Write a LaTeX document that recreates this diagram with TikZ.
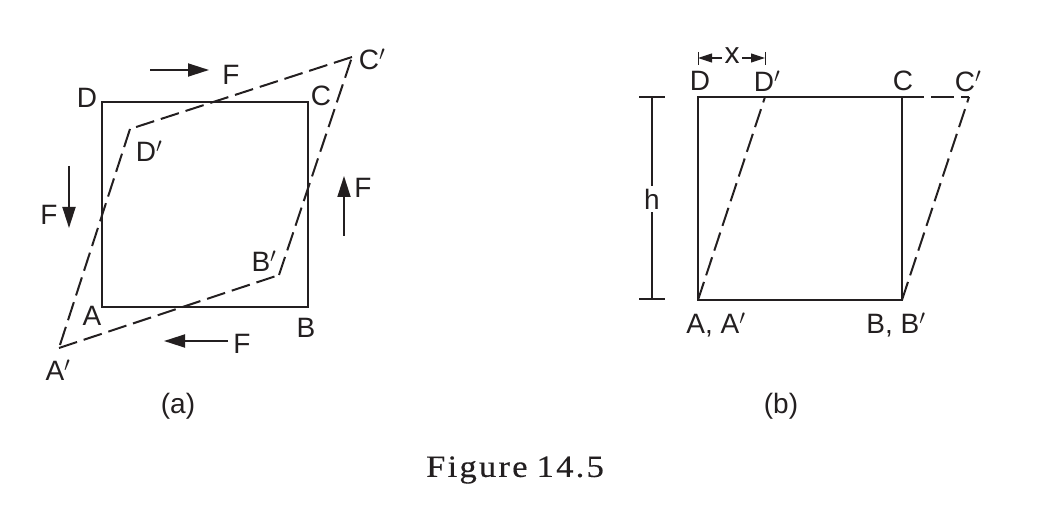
\documentclass[tikz,border=0pt]{standalone}
\usepackage{fontspec}
\setmainfont{Liberation Sans}
\newfontfamily\capfont[LetterSpace=7,FakeStretch=1.12,FakeBold=0.4]{Liberation Serif}
\usetikzlibrary{arrows.meta}
\definecolor{ink}{HTML}{231F20}
\tikzset{
  x=1pt,y=-1pt,
  solidline/.style={draw=ink,line width=2.2pt,line join=miter},
  dashline/.style={draw=ink,line width=2pt,dash pattern=on 19pt off 7pt},
  forcearrow/.style={draw=ink,line width=1.8pt,-{Triangle[length=21pt,width=13pt]}},
  thinline/.style={draw=ink,line width=1.6pt},
  dimarrow/.style={draw=ink,line width=1.1pt,-{Triangle[length=14pt,width=9pt]}},
  lab/.style={font=\fontsize{28}{28}\selectfont,text=ink,inner sep=0pt},
  figcap/.style={font=\capfont\fontsize{31}{31}\selectfont,text=ink,inner sep=0pt}
}
\begin{document}
\begin{tikzpicture}
\useasboundingbox (0,0) rectangle (1057,518);
% --- panel (a)
\coordinate (a1) at (102,307);
\coordinate (b1) at (308,307);
\coordinate (c1) at (308,102);
\coordinate (d1) at (102,102);
\coordinate (a2) at (59,348);
\coordinate (b2) at (279,275);
\coordinate (c2) at (352,57);
\coordinate (d2) at (130,129);
\draw[solidline] (a1) -- (b1) -- (c1) -- (d1) -- cycle;
\draw[dashline] (a2) -- (b2);
\draw[dashline] (b2) -- (c2);
\draw[dashline] (c2) -- (d2);
\draw[dashline] (d2) -- (a2);
\node[lab] (lD) at (87,98) {D};
\node[lab] (lC) at (321,96) {C};
\node[lab] (lA) at (92,316) {A};
\node[lab] (lB) at (306,328) {B};
\node[lab] (lCp) at (372,59) {C$'$};
\node[lab] (lDp) at (149,151) {D$'$};
\node[lab] (lBp) at (264,261) {B$'$};
\node[lab] (lAp) at (58,370) {A$'$};
\node[lab] (F1) at (231,75) {F};
\node[lab] (F2) at (49,215) {F};
\node[lab] (F3) at (363,188) {F};
\node[lab] (F4) at (242,344) {F};
\coordinate (f1s) at (150,70);
\coordinate (f1e) at (209,70);
\coordinate (f2s) at (69,166);
\coordinate (f2e) at (69,228);
\coordinate (f3s) at (344,236);
\coordinate (f3e) at (344,176);
\coordinate (f4s) at (228,341);
\coordinate (f4e) at (164,341);
\draw[forcearrow] (f1s) -- (f1e);
\draw[forcearrow] (f2s) -- (f2e);
\draw[forcearrow] (f3s) -- (f3e);
\draw[forcearrow] (f4s) -- (f4e);
\node[lab] (capa) at (178,406) {(a)};
% --- panel (b)
\coordinate (a3) at (698,300);
\coordinate (b3) at (902,300);
\coordinate (c3) at (902,97);
\coordinate (d3) at (698,97);
\coordinate (dp) at (765,97);
\coordinate (cp) at (969,97);
\coordinate (topsolid) at (924,97);
\coordinate (topdash) at (931,97);
\draw[solidline] (a3) -- (b3) -- (c3) -- (d3) -- cycle;
\draw[solidline] (c3) -- (topsolid);
\draw[dashline] (a3) -- (dp);
\draw[dashline] (b3) -- (cp);
\draw[draw=ink,line width=2pt,dash pattern=on 23pt off 7pt] (topdash) -- (cp);
\coordinate (ht) at (652,97);
\coordinate (hb) at (652,299);
\coordinate (htl) at (639,97);
\coordinate (htr) at (665,97);
\coordinate (hbl) at (639,299);
\coordinate (hbr) at (665,299);
\node[lab,fill=white,inner ysep=3pt] (lh) at (652,199) {h};
\draw[thinline] (ht) -- (lh) (lh) -- (hb);
\draw[thinline] (htl) -- (htr);
\draw[thinline] (hbl) -- (hbr);
\node[lab,font=\fontsize{30}{30}\selectfont] (lx) at (732,56) {x};
\coordinate (xl) at (698,58);
\coordinate (xr) at (765,58);
\draw[draw=ink,line width=1pt] (698,52) -- (698,65);
\draw[draw=ink,line width=1pt] (765,52) -- (765,65);
\draw[dimarrow] (722,58) -- (xl);
\draw[dimarrow] (742,58) -- (xr);
\node[lab] (lD2) at (700,81) {D};
\node[lab] (lDp2) at (767,81) {D$'$};
\node[lab] (lC2) at (903,81) {C};
\node[lab] (lCp2) at (968,81) {C$'$};
\node[lab] (lAA) at (716,325) {A, A$'$};
\node[lab] (lBB) at (896,325) {B, B$'$};
\node[lab] (capb) at (781,406) {(b)};
\node[figcap] (cap) at (515,470) {Figure\hspace{9pt}14.5};
\end{tikzpicture}
\end{document}
